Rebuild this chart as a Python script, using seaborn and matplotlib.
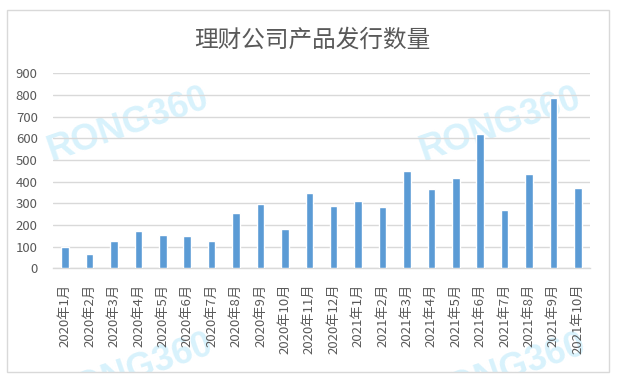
import numpy as np
import pandas as pd
import matplotlib
matplotlib.use("Agg")
import matplotlib.pyplot as plt
from matplotlib.patches import Rectangle
import seaborn as sns

months = ["2020年1月", "2020年2月", "2020年3月", "2020年4月", "2020年5月", "2020年6月",
          "2020年7月", "2020年8月", "2020年9月", "2020年10月", "2020年11月", "2020年12月",
          "2021年1月", "2021年2月", "2021年3月", "2021年4月", "2021年5月", "2021年6月",
          "2021年7月", "2021年8月", "2021年9月", "2021年10月"]
counts = [99, 68, 127, 172, 155, 150, 127, 256, 298, 182, 348, 289,
          312, 284, 450, 367, 418, 620, 270, 436, 787, 372]
yticks = [0, 100, 200, 300, 400, 500, 600, 700, 800, 900]
title = "理财公司产品发行数量"
watermark = "RONG360"

sns.set_theme(style="white")
plt.rcParams['font.family'] = ['Noto Sans CJK SC', 'DejaVu Sans']

W, H = 617, 381
fig = plt.figure(figsize=(W / 100, H / 100), dpi=100)
fig.patch.set_facecolor("white")

# outer border
border = Rectangle((7 / W, 1 - 372 / H), (609 - 7) / W, (372 - 10) / H,
                   transform=fig.transFigure, fill=False,
                   edgecolor="#d9d9d9", linewidth=1.0, zorder=5)
fig.patches.append(border)
clip_rect = Rectangle((7 / W, 1 - 372 / H), (609 - 7) / W, (372 - 10) / H,
                      transform=fig.transFigure, fill=False)

# watermarks
for (cx, cy) in [(128, 125), (500, 125), (132, 371), (505, 371)]:
    t = fig.text(cx / W, 1 - cy / H, watermark, family="Liberation Sans", weight="bold",
                 fontsize=26, color="#d8f2fc", rotation=19, ha="center", va="center",
                 zorder=-1)
    t.set_clip_path(clip_rect)

left, right = 53 / W, 590 / W
bottom, top = 1 - 268.3 / H, 1 - 73.3 / H
ax = fig.add_axes([left, bottom, right - left, top - bottom])
ax.set_facecolor("none")

df = pd.DataFrame({"month": months, "count": counts})
sns.barplot(data=df, x="month", y="count", color="#5b9bd5", saturation=1,
            width=0.31, ax=ax, zorder=3)

ax.set_xlim(-0.5, len(months) - 0.5)
ax.set_ylim(0, 900)
ax.set_yticks(yticks)
ax.set_yticklabels([str(v) for v in yticks])
ax.yaxis.grid(True, color="#d9d9d9", linewidth=1.0, zorder=0)
ax.set_axisbelow(True)
ax.set_xlabel("")
ax.set_ylabel("")

for s in ["top", "right", "left"]:
    ax.spines[s].set_visible(False)
ax.spines["bottom"].set_color("#d9d9d9")
ax.spines["bottom"].set_linewidth(1.0)

ax.set_xticks(np.arange(len(months)))
ax.set_xticklabels(months, rotation=90, va="top", ha="center")
ax.set_xticks(np.arange(-0.5, len(months), 1), minor=True)
ax.tick_params(axis="x", which="major", length=0, pad=11, labelsize=9.5, colors="#595959")
ax.tick_params(axis="x", which="minor", length=5, width=1, color="#d9d9d9", direction="out")
ax.tick_params(axis="y", length=0, pad=11, labelsize=9.5, colors="#595959")

fig.text(312 / W, 1 - 40 / H, title, fontsize=17, color="#595959", ha="center", va="center")

fig.savefig("out.png", dpi=100)
